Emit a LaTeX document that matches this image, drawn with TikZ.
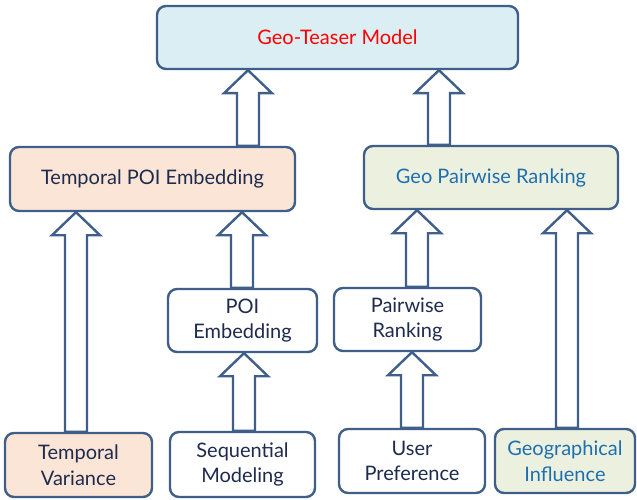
\documentclass[tikz,border=0pt]{standalone}
\usepackage{fontspec}
\setmainfont{Lato}
\usetikzlibrary{calc}
\definecolor{edgeblue}{HTML}{3F5F8A}
\definecolor{inkblue}{HTML}{1E2B4F}
\definecolor{linkblue}{HTML}{1F6FB0}
\definecolor{skyfill}{HTML}{DAEEF3}
\definecolor{peachfill}{HTML}{FBE5D6}
\definecolor{sagefill}{HTML}{EBF1DE}
\tikzset{
  box/.style={draw=edgeblue, line width=2.4pt, rounded corners=9pt, fill=white,
    text=inkblue, align=center, inner sep=0pt, font=\fontsize{20}{25.5}\selectfont},
  blockarrow/.style={draw=edgeblue, line width=2.4pt, fill=white, line join=miter},
}
% block arrow from the top of #1 up to the bottom of #2, centred at x = #3 (pt)
\newcommand{\feedup}[3]{%
  \draw[blockarrow] let \p1=(#1.north), \p2=(#2.south) in
    ({#3pt-11pt},\y1) -- ({#3pt-11pt},{\y2-23pt}) -- ({#3pt-24pt},{\y2-23pt})
    -- ({#3pt},\y2) -- ({#3pt+24pt},{\y2-23pt}) -- ({#3pt+11pt},{\y2-23pt})
    -- ({#3pt+11pt},\y1) -- cycle;}
\begin{document}
\begin{tikzpicture}[x=1pt, y=-1pt]
\useasboundingbox (0,0) rectangle (637,500);
% boxes (centres in pixel-like units, y downwards)
\node[box, fill=skyfill, text=red, minimum width=361pt, minimum height=63pt] (model) at (337.5,37.5) {Geo-Teaser Model};
\node[box, fill=peachfill, minimum width=285pt, minimum height=64pt] (tpe) at (152.5,179) {Temporal POI Embedding};
\node[box, fill=sagefill, text=linkblue, minimum width=254pt, minimum height=63pt] (gpr) at (491,177.5) {Geo Pairwise Ranking};
\node[box, minimum width=149pt, minimum height=63pt] (poi) at (242.5,320.5) {POI\\Embedding};
\node[box, minimum width=147pt, minimum height=63pt] (pr) at (407.5,319.5) {Pairwise\\Ranking};
\node[box, fill=peachfill, minimum width=147pt, minimum height=64pt] (tv) at (78.5,465) {Temporal\\Variance};
\node[box, minimum width=145pt, minimum height=65pt] (seq) at (242.5,464.5) {Sequential\\Modeling};
\node[box, minimum width=146pt, minimum height=64pt] (up) at (412,461) {User\\Preference};
\node[box, fill=sagefill, text=linkblue, minimum width=140pt, minimum height=64pt] (geo) at (565,461) {Geographical\\Influence};
% block arrows
\feedup{tpe}{model}{248}
\feedup{gpr}{model}{439}
\feedup{tv}{tpe}{76}
\feedup{poi}{tpe}{242}
\feedup{seq}{poi}{244}
\feedup{pr}{gpr}{417}
\feedup{up}{pr}{412}
\feedup{geo}{gpr}{567}
\end{tikzpicture}
\end{document}
